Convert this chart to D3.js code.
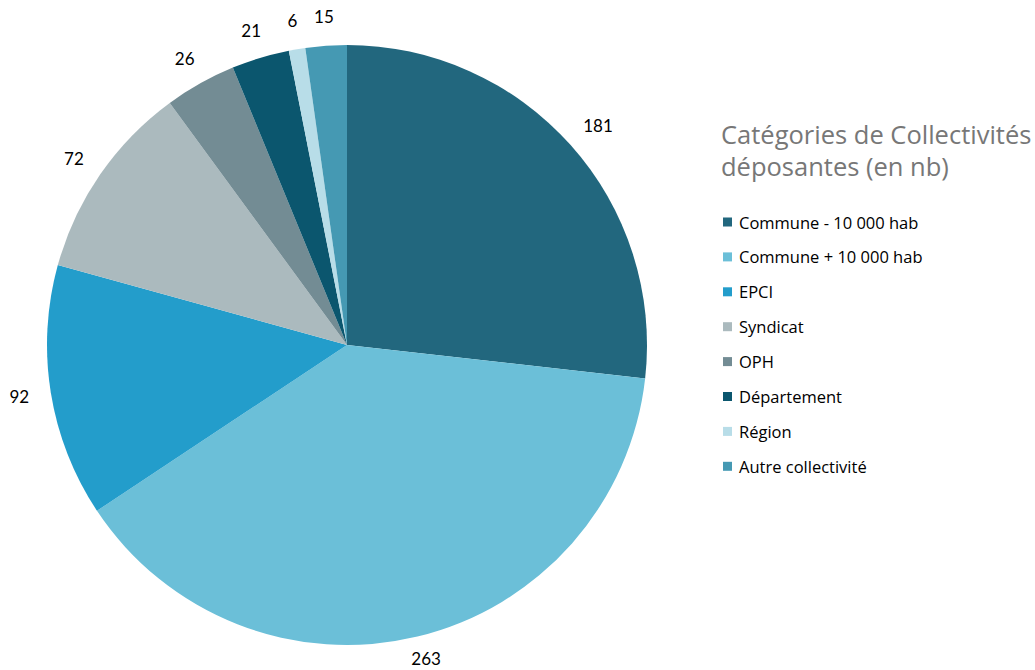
<!DOCTYPE html>
<html><head><meta charset="utf-8">
<script src="https://cdn.jsdelivr.net/npm/d3@7"></script>
<style>body{margin:0;background:#fff}</style>
</head><body>
<svg id="c" width="1035" height="670"></svg>
<script>
const categories = ["Commune - 10 000 hab","Commune + 10 000 hab","EPCI","Syndicat","OPH","Département","Région","Autre collectivité"];
const values = [181,263,92,72,26,21,6,15];
const colors = ["#22677E","#6BBFD8","#239DCB","#ABBABE","#738C94","#0B566E","#B8DDE8","#4599B3"];
const titleLines = ["Catégories de Collectivités","déposantes (en nb)"];

const svg = d3.select("#c");
const W = 1035, H = 670;
const cx = 347, cy = 345, R = 300, LR = 322;
const data = categories.map((c,i)=>({c, v:values[i], col:colors[i]}));
const pie = d3.pie().sort(null).value(d=>d.v);
const arcs = pie(data);
const arc = d3.arc().innerRadius(0).outerRadius(R);
const g = svg.append("g").attr("transform",`translate(${cx},${cy})`);
g.selectAll("path").data(arcs).join("path").attr("d",arc).attr("fill",d=>d.data.col);
const labels = g.selectAll("text").data(arcs).join("text")
  .attr("text-anchor","middle").attr("dominant-baseline","central")
  .attr("font-family","Lato, 'Open Sans', sans-serif").attr("font-size",17).attr("fill","#000")
  .text(d=>d.data.v);
labels.each(function(d){
  const a = (d.startAngle+d.endAngle)/2;
  const ux = Math.sin(a), uy = -Math.cos(a);
  const w = this.getComputedTextLength(), h = 14;
  let x = LR*ux + ux*w/2, y = LR*uy + uy*h/2;
  // keep the label box inside the picture
  y = Math.min(y, H - cy - 12);
  y = Math.max(y, -cy + 12);
  d3.select(this).attr("transform",`translate(${x},${y})`);
});

const t = svg.append("text").attr("font-family","'Open Sans', sans-serif")
  .attr("font-size",25.5).attr("fill","#777");
titleLines.forEach((l,i)=>t.append("tspan").attr("x",721).attr("y",144+i*32).text(l));

const lg = svg.append("g");
data.forEach((d,i)=>{
  const y = 222 + i*34.9;
  lg.append("rect").attr("x",723).attr("y",y-4.5).attr("width",9).attr("height",9).attr("fill",d.col);
  lg.append("text").attr("x",739).attr("y",y).attr("dominant-baseline","central")
    .attr("font-family","'Open Sans', sans-serif").attr("font-size",16.5).attr("fill","#000").text(d.c);
});
</script>
</body></html>
